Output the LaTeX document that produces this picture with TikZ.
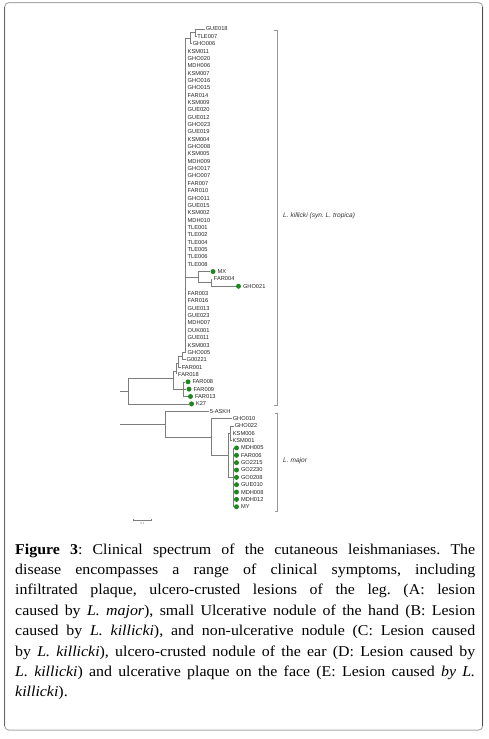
\documentclass[tikz,border=0pt]{standalone}
\usepackage{fontspec}
\setmainfont[FakeStretch=1.06]{Liberation Serif}
\newfontfamily\tipfont{Liberation Sans}
\definecolor{branch}{RGB}{125,125,125}
\definecolor{dotgreen}{RGB}{30,135,30}
\definecolor{framegray}{RGB}{170,170,170}
\begin{document}
\frenchspacing
\begin{tikzpicture}[x=1pt,y=-1pt,
  branchline/.style={draw=branch, line width=0.6pt},
  bracketline/.style={draw=branch!80, line width=0.6pt},
  tip/.style={anchor=west, inner sep=0.6pt, font=\tipfont\fontsize{5.7}{6}\selectfont, text=black!85},
  tipzero/.style={tip, inner xsep=2pt},
  cladelabel/.style={anchor=west, inner sep=0pt, font=\tipfont\itshape\fontsize{6.6}{7}\selectfont, text=black!80},
  gdot/.style={circle, fill=dotgreen, inner sep=0pt, minimum size=5pt},
  capline/.style={anchor=base west, inner sep=0pt, font=\fontsize{15}{18}\selectfont},
]
\useasboundingbox (0,0) rectangle (489,739);
% frame
\draw[framegray, line width=1pt, rounded corners=4pt] (4.7,2.7) rectangle (482.7,730);
\draw[black!60, line width=1pt] (4.7,7) -- (4.7,726);
\draw[black!70, line width=1pt] (482.7,7) -- (482.7,726);

% ---------- L. killicki clade ----------
\coordinate (rootA) at (120,391.1);
\coordinate (K0) at (128.3,391.1);
\coordinate (K1) at (173.3,378.3);
\coordinate (K2) at (176,371);
\coordinate (K3) at (178.5,363.5);
\coordinate (K4) at (182.5,356);
\coordinate (P)  at (185.5,352.4);
\coordinate (T0) at (190,38.2);
\coordinate (T1) at (195,32.7);
\coordinate (Q)  at (198.3,277);
\coordinate (R)  at (211.7,282.6);
\coordinate (FG) at (183,389.15);

\draw[branchline] (rootA) -- (K0);
\draw[branchline] (K0) |- (K1);
\draw[branchline] (K1) |- (K2);
\draw[branchline] (K1) |- (FG);
\draw[branchline] (K2) |- (K3);
\draw[branchline] (K3) |- (K4);
\draw[branchline] (K4) |- (P);
\draw[branchline] (P) |- (T0);
\draw[branchline] (T0) |- (T1);
\draw[branchline] (P) |- (Q);
\draw[branchline] (Q) |- (R);

% top small clade
\node[tip] (GUE018) at (205,29) {GUE018};
\node[tip] (TLE007) at (196.5,36.35) {TLE007};
\node[tip] (GHO006) at (192,43.7) {GHO006};
\draw[branchline] (T1) |- (GUE018);
\draw[branchline] (T1) |- (TLE007);
\draw[branchline] (T0) |- (GHO006);

% polytomy tips
\foreach \n/\r in {KSM011/4, GHO020/5, MDH006/6, KSM007/7, GHO016/8, GHO015/9, FAR014/10,
  KSM009/11, GUE020/12, GUE012/13, GHO023/14, GUE019/15, KSM004/16, GHO008/17, KSM005/18,
  MDH009/19, GHO017/20, GHO007/21, FAR007/22, FAR010/23, GHO011/24, GUE015/25, KSM002/26,
  MDH010/27, TLE001/28, TLE002/29, TLE004/30, TLE005/31, TLE006/32, TLE008/33,
  FAR003/37, FAR016/38, GUE013/39, GUE023/40, MDH007/41, OUK001/42, GUE011/43, KSM003/44,
  GHO005/45} {
  \node[tipzero] (\n) at (185.5,{29+7.35*(\r-1)}) {\n};
  \draw[branchline] (P) |- (\n);
}

% MX clade
\node[gdot] (MX) at (213,271.55) {};
\node[tip] (MX-l) at ([xshift=1pt]MX.east) {MX};
\node[tipzero] (FAR004) at (211.7,278.9) {FAR004};
\node[gdot] (GHO021) at (238.5,286.25) {};
\node[tip] (GHO021-l) at ([xshift=1pt]GHO021.east) {GHO021};
\draw[branchline] (Q) |- (MX);
\draw[branchline] (R) |- (FAR004);
\draw[branchline] (R) |- (GHO021);

% staircase tips
\node[tip] (G00221) at (185.8,359.75) {G00221};
\node[tip] (FAR001) at (181,367.1) {FAR001};
\node[tipzero] (FAR018) at (176,374.45) {FAR018};
\draw[branchline] (K4) |- (G00221);
\draw[branchline] (K3) |- (FAR001);
\draw[branchline] (K2) |- (FAR018);

% FAR008 group and K27
\node[gdot] (FAR008) at (188,381.8) {};
\node[gdot] (FAR009) at (189,389.15) {};
\node[gdot] (FAR013) at (190.5,396.5) {};
\node[gdot] (K27) at (191.5,403.85) {};
\node[tip] (FAR008-l) at ([xshift=1pt]FAR008.east) {FAR008};
\node[tip] (FAR009-l) at ([xshift=1pt]FAR009.east) {FAR009};
\node[tip] (FAR013-l) at ([xshift=1pt]FAR013.east) {FAR013};
\node[tip] (K27-l) at ([xshift=1pt]K27.east) {K27};
\draw[branchline] (FG) |- (FAR008);
\draw[branchline] (FG) |- (FAR009);
\draw[branchline] (FG) |- (FAR013);
\draw[branchline] (K0) |- (K27);

% ---------- L. major clade ----------
\coordinate (rootB) at (120,424.1);
\coordinate (MR) at (165,424.1);
\coordinate (M0) at (211.7,437);
\coordinate (M1) at (228.3,455.3);
\coordinate (M2) at (230.7,433.25);
\coordinate (M3) at (233,477.35);
\draw[branchline] (rootB) -- (MR);
\draw[branchline] (MR) |- (M0);
\draw[branchline] (M0) |- (M1);
\draw[branchline] (M1) |- (M2);
\draw[branchline] (M1) |- (M3);

\node[tip] (5-ASKH) at (209,411.2) {5-ASKH};
\node[tip] (GHO010) at (232,418.55) {GHO010};
\node[tip] (GHO022) at (234,425.9) {GHO022};
\node[tipzero] (KSM006) at (230.7,433.25) {KSM006};
\node[tip] (KSM001) at (231.8,440.6) {KSM001};
\draw[branchline] (MR) |- (5-ASKH);
\draw[branchline] (M0) |- (GHO010);
\draw[branchline] (M2) |- (GHO022);
\draw[branchline] (M2) |- (KSM006);
\draw[branchline] (M2) |- (KSM001);

\foreach \n/\r in {MDH005/58, FAR006/59, GO2215/60, GO2230/61, GO0208/62, GUE010/63,
  MDH008/64, MDH012/65, MY/66} {
  \node[gdot] (\n) at (236.5,{29+7.35*(\r-1)}) {};
  \node[tip] (\n-l) at ([xshift=1pt]\n.east) {\n};
  \draw[branchline] (M3) |- (\n);
}

% brackets and clade labels
\draw[bracketline] (274,30) -- (277,30) -- (277,405) -- (274,405);
\draw[bracketline] (274.5,413) -- (277.5,413) -- (277.5,511) -- (274.5,511);
\node[cladelabel] (killicki) at (283,216) {L. killicki (syn. L. tropica)};
\node[cladelabel] (major) at (283,461) {L. major};

% scale bar
\coordinate (sbL) at (133.5,520);
\coordinate (sbR) at (151.5,520);
\draw[branchline, line width=0.5pt] (sbL) -- (sbR);
\draw[branchline, line width=0.5pt] ([yshift=1.2pt]sbL) -- ([yshift=-1.2pt]sbL);
\draw[branchline, line width=0.5pt] ([yshift=1.2pt]sbR) -- ([yshift=-1.2pt]sbR);
\node[inner sep=0pt, font=\tipfont\fontsize{2.8}{3}\selectfont, text=black!60] (sbtext) at (142.5,524) {0.1};

% caption
\node[capline] (c1) at (15,554.3) {\makebox[460pt][s]{\textbf{Figure 3}: Clinical spectrum of the cutaneous leishmaniases. The}};
\node[capline] (c2) at (15,574.64) {\makebox[460pt][s]{disease encompasses a range of clinical symptoms, including}};
\node[capline] (c3) at (15,594.98) {\makebox[460pt][s]{infiltrated plaque, ulcero-crusted lesions of the leg. (A: lesion}};
\node[capline] (c4) at (15,615.32) {\makebox[460pt][s]{caused by \textit{L. major}), small Ulcerative nodule of the hand (B: Lesion}};
\node[capline] (c5) at (15,635.66) {\makebox[460pt][s]{caused by \textit{L. killicki}), and non-ulcerative nodule (C: Lesion caused}};
\node[capline] (c6) at (15,656.0) {\makebox[460pt][s]{by \textit{L. killicki}), ulcero-crusted nodule of the ear (D: Lesion caused by}};
\node[capline] (c7) at (15,676.34) {\makebox[460pt][s]{\textit{L. killicki}) and ulcerative plaque on the face (E: Lesion caused \textit{by L.}}};
\node[capline] (c8) at (15,696.68) {\textit{killicki}).};
\end{tikzpicture}
\end{document}
